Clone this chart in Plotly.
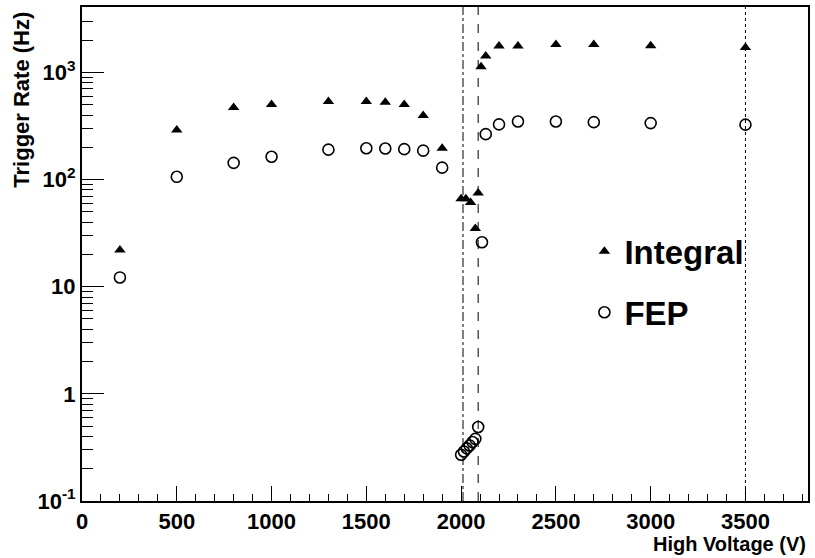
import plotly.graph_objects as go

# --- data ---------------------------------------------------------------
hv_integral = [200, 500, 800, 1000, 1300, 1500, 1600, 1700, 1800, 1900,
               2000, 2025, 2050, 2075, 2090, 2105, 2130,
               2200, 2300, 2500, 2700, 3000, 3500]
rate_integral = [22, 290, 470, 500, 535, 535, 525, 500, 395, 196,
                 66, 66, 61, 35, 75, 1130, 1420,
                 1760, 1760, 1820, 1820, 1770, 1705]

hv_fep = [200, 500, 800, 1000, 1300, 1500, 1600, 1700, 1800, 1900,
          2000, 2015, 2030, 2045, 2060, 2075, 2090, 2110, 2130,
          2200, 2300, 2500, 2700, 3000, 3500]
rate_fep = [12.2, 106, 143, 163, 190, 196, 195, 192, 186, 129,
            0.27, 0.29, 0.31, 0.33, 0.355, 0.38, 0.49, 26, 265,
            327, 348, 348, 343, 336, 325]

ref_lines_hv = [2010, 2090, 3500]
ref_lines_dash = ["dashdot", "dash", "dot"]

y_tickvals = [0.1, 1, 10, 100, 1000]
y_ticktext = ["10<sup>-1</sup>", "1", "10", "10<sup>2</sup>", "10<sup>3</sup>"]
y_minor_vals = [m * 10 ** e for e in range(-1, 4) for m in range(2, 10)]

x_range = [0, 3830]
y_range_log = [-1, 3.61]

FONT = "Liberation Sans"

fig = go.Figure()
fig.add_trace(go.Scatter(
    x=hv_integral, y=rate_integral, mode="markers", name="Integral",
    legendgroup="a",
    marker=dict(symbol="triangle-up", size=10, color="black"),
))
fig.add_trace(go.Scatter(
    x=hv_fep, y=rate_fep, mode="markers", name="FEP",
    legendgroup="b",
    marker=dict(symbol="circle-open", size=11, color="black",
                line=dict(width=1.6, color="black")),
))

for xv, d in zip(ref_lines_hv, ref_lines_dash):
    fig.add_shape(type="line", xref="x", yref="paper", x0=xv, x1=xv,
                  y0=0, y1=1, line=dict(color="black", width=1, dash=d),
                  layer="below")

fig.update_layout(
    width=815, height=558,
    margin=dict(l=82, r=5, t=5, b=57),
    plot_bgcolor="white", paper_bgcolor="white",
    font=dict(family=FONT, color="black"),
    showlegend=True,
    legend=dict(x=0.692, y=0.562, xanchor="left", yanchor="top",
                bgcolor="rgba(0,0,0,0)",
                font=dict(family=FONT, size=33, weight="bold"),
                traceorder="grouped", tracegroupgap=15,
                itemwidth=30),
    xaxis=dict(range=x_range, showgrid=False, zeroline=False,
               showline=True, linecolor="black", linewidth=2, mirror=True,
               ticks="inside", ticklen=15, tickwidth=1, tickcolor="black",
               tick0=0, dtick=500,
               minor=dict(ticks="inside", ticklen=7, dtick=100,
                          tickcolor="black", tickwidth=1, showgrid=False),
               tickfont=dict(family=FONT, size=22, weight="bold")),
    yaxis=dict(type="log", range=y_range_log, showgrid=False, zeroline=False,
               showline=True, linecolor="black", linewidth=2, mirror=True,
               ticks="inside", ticklen=22, tickwidth=1, tickcolor="black",
               tickmode="array", tickvals=y_tickvals, ticktext=y_ticktext,
               minor=dict(ticks="inside", ticklen=11, tickmode="array",
                          tickvals=y_minor_vals,
                          tickcolor="black", tickwidth=1, showgrid=False),
               tickfont=dict(family=FONT, size=22, weight="bold")),
    annotations=[
        dict(text="Trigger Rate (Hz)", xref="paper", yref="paper",
             x=-0.083, y=0.994, xanchor="center", yanchor="top",
             textangle=-90, showarrow=False,
             font=dict(family=FONT, size=22, weight="bold")),
        dict(text="High Voltage (V)", xref="paper", yref="paper",
             x=1.0, y=-0.0875, xanchor="right", yanchor="middle",
             showarrow=False,
             font=dict(family=FONT, size=20, weight="bold")),
    ],
)

fig.write_html("out.html")
